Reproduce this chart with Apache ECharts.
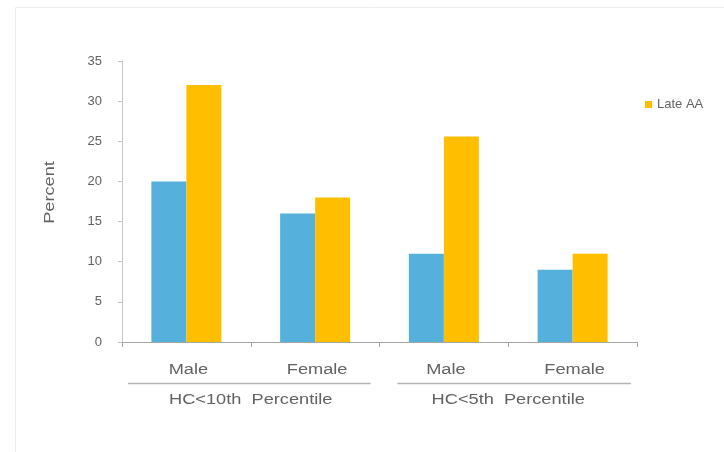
<!DOCTYPE html>
<html>
<head>
<meta charset="utf-8">
<script src="https://cdn.jsdelivr.net/npm/echarts@6/dist/echarts.min.js"></script>
<style>
  html, body { margin: 0; padding: 0; background: #ffffff; }
  #chart { width: 724px; height: 452px; }
</style>
</head>
<body>
<div id="chart"></div>
<script>
// Sub-categories along the x axis and the percentile groups they belong to
const categories = ['Male', 'Female', 'Male', 'Female'];
const groupLabels = ['HC<10th  Percentile', 'HC<5th  Percentile'];
const groupSize = 2;

// Percent of children per category
const earlyAA = [20, 16, 11, 9];
const lateAA = [32, 18, 25.6, 11];

// Value axis range
const yMin = 0;
const yMax = 35;
const yStep = 5;

const axisTitle = 'Percent';

const TEXT = '#626262';
const FONT = '"Liberation Sans", Arial, sans-serif';
const STRETCH = 1.3;

const chart = echarts.init(document.getElementById('chart'), null, { renderer: 'canvas' });

chart.setOption({
  animation: false,
  backgroundColor: '#ffffff',
  grid: { left: 122, right: 87, top: 61, bottom: 110, containLabel: false },
  legend: {
    data: ['Late AA'],
    left: 640,
    top: 93,
    icon: 'rect',
    itemWidth: 7,
    itemHeight: 7,
    itemGap: 6,
    textStyle: { color: TEXT, fontSize: 13, fontFamily: FONT }
  },
  xAxis: {
    type: 'category',
    data: categories,
    axisLine: { lineStyle: { color: '#a6a6a6', width: 1 } },
    axisTick: { show: true, length: 5, lineStyle: { color: '#a6a6a6' } },
    axisLabel: { show: false },
    splitLine: { show: false }
  },
  yAxis: {
    type: 'value',
    min: yMin,
    max: yMax,
    interval: yStep,
    axisLine: { show: true, lineStyle: { color: '#c4c4c4', width: 1 } },
    axisTick: { show: true, length: 4, lineStyle: { color: '#c4c4c4' } },
    axisLabel: { color: TEXT, fontSize: 13, fontFamily: FONT, margin: 20 },
    splitLine: { show: false }
  },
  series: [
    {
      name: 'Early AA',
      type: 'bar',
      data: earlyAA,
      barWidth: 35,
      barGap: '0%',
      itemStyle: { color: '#55b1dc' }
    },
    {
      name: 'Late AA',
      type: 'bar',
      data: lateAA,
      barWidth: 35,
      barGap: '0%',
      itemStyle: { color: '#ffbf00' }
    }
  ]
});

// Category labels, group underlines and group titles are placed from the axis scale
function addAnnotations() {
  const centers = categories.map((_, i) => chart.convertToPixel({ xAxisIndex: 0 }, i));
  const band = centers.length > 1 ? centers[1] - centers[0] : 120;
  const baseY = chart.convertToPixel({ yAxisIndex: 0 }, yMin);
  const midY = chart.convertToPixel({ yAxisIndex: 0 }, (yMin + yMax) / 2);
  const elements = [];

  // faint frame around the chart area
  elements.push({
    type: 'rect',
    shape: { x: 15.5, y: 7.5, width: 760, height: 500 },
    style: { fill: 'none', stroke: '#ececec', lineWidth: 1 },
    silent: true
  });

  categories.forEach((name, i) => {
    elements.push({
      type: 'text',
      x: centers[i] + 2,
      y: baseY + 28,
      scaleX: STRETCH,
      style: {
        text: name, x: 0, y: 0,
        textAlign: 'center', textVerticalAlign: 'middle',
        font: '14px ' + FONT, fill: TEXT
      },
      silent: true
    });
  });

  groupLabels.forEach((label, g) => {
    const first = centers[g * groupSize];
    const last = centers[g * groupSize + groupSize - 1];
    const left = first - band / 2;
    const right = last + band / 2;
    elements.push({
      type: 'line',
      shape: { x1: left + (g === 0 ? 6 : 18), y1: baseY + 41.5, x2: right - (g === 0 ? 9 : 6), y2: baseY + 41.5 },
      style: { stroke: '#b4b4b4', lineWidth: 1.5 },
      silent: true
    });
    elements.push({
      type: 'text',
      x: (left + right) / 2,
      y: baseY + 58,
      scaleX: STRETCH,
      style: {
        text: label, x: 0, y: 0,
        textAlign: 'center', textVerticalAlign: 'middle',
        font: '14px ' + FONT, fill: TEXT
      },
      silent: true
    });
  });

  elements.push({
    type: 'text',
    x: 50,
    y: midY - 9,
    rotation: Math.PI / 2,
    scaleX: STRETCH,
    style: {
      text: axisTitle, x: 0, y: 0,
      textAlign: 'center', textVerticalAlign: 'middle',
      font: '14px ' + FONT, fill: TEXT
    },
    silent: true
  });

  chart.setOption({ graphic: elements });
}

addAnnotations();
</script>
</body>
</html>
